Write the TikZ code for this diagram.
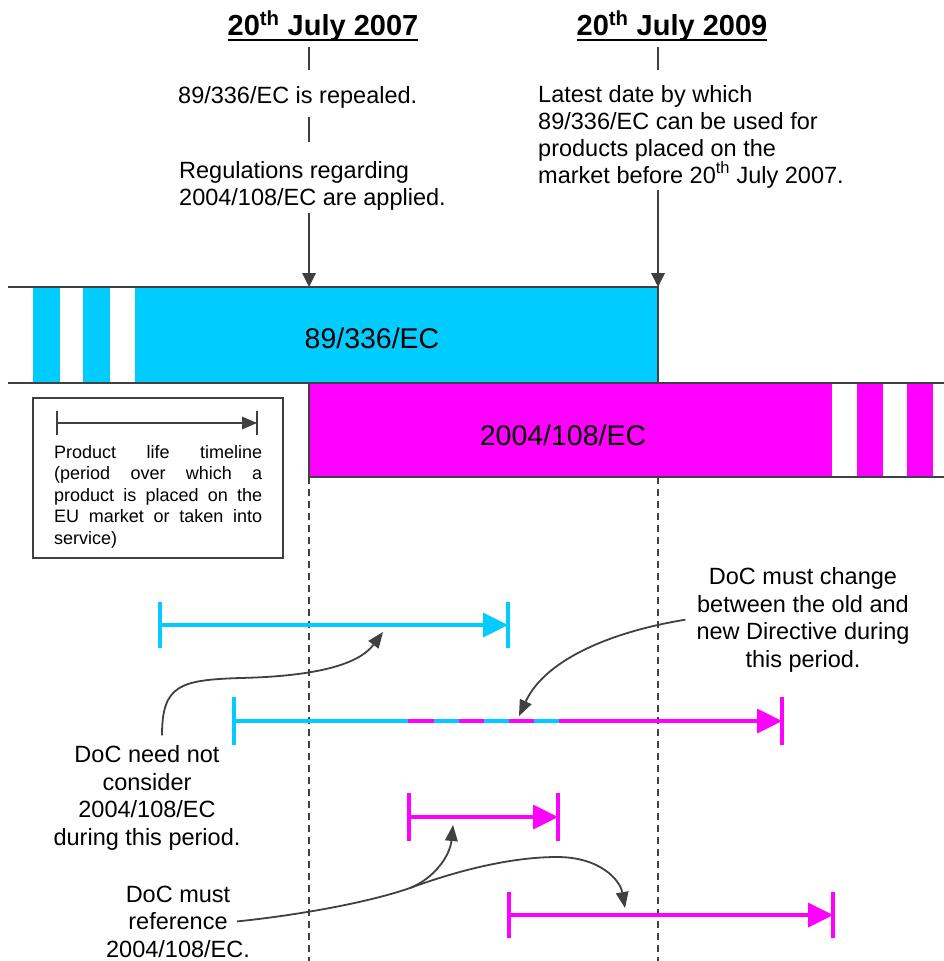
\documentclass[tikz,border=0pt]{standalone}
\usepackage{fontspec}
\setmainfont{Liberation Sans}
\usepackage{tikz}
\usetikzlibrary{arrows.meta}
\definecolor{oldcyan}{HTML}{00CCFF}
\definecolor{newmag}{HTML}{FF00FF}
\definecolor{linegray}{HTML}{404040}
\tikzstyle{heading} = [font=\fontsize{29}{33}\selectfont\bfseries,
inner sep=0pt,
anchor=base]
\tikzstyle{note} = [font=\fontsize{23.5}{27}\selectfont,
inner sep=0pt,
anchor=base west,
align=left]
\tikzstyle{callout} = [font=\fontsize{23.5}{27.5}\selectfont,
inner sep=0pt,
anchor=base,
align=center]
\tikzstyle{barlabel} = [font=\fontsize{28.5}{32}\selectfont,
inner sep=0pt,
anchor=base]
\tikzstyle{keytext} = [font=\fontsize{18}{21.5}\selectfont,
inner sep=0pt,
anchor=base west,
text width=208pt,
align=justify]
\tikzstyle{border} = [draw=linegray, line width=1.5pt]
\tikzstyle{guide} = [draw=linegray, line width=1.5pt]
\tikzstyle{datearrow} = [draw=linegray, line width=1.5pt,
-{Triangle[length=14pt,width=14pt,line width=0pt]}]
\tikzstyle{pointer} = [draw=linegray, line width=1.8pt,
-{Triangle[length=16pt,width=13pt,line width=0pt]}]
\tikzstyle{lifeline} = [line width=4pt,
-{Triangle[length=25pt,width=25pt,line width=0pt]}]
\tikzstyle{stopline} = [line width=4pt]
\tikzstyle{keyline} = [draw=linegray, line width=2pt,
-{Triangle[length=15pt,width=13pt,line width=0pt]}]
\tikzstyle{periodline} = [draw=linegray, line width=1.3pt, dash pattern=on 7pt off 5pt]

\begin{document}
\begin{tikzpicture}[x=1pt, y=-1pt]
\useasboundingbox (0,0) rectangle (944,961);

% directive bars
\fill[oldcyan] (33,287) rectangle (60,383);
\fill[oldcyan] (83,287) rectangle (110,383);
\fill[oldcyan] (135,287) rectangle (658,383);
\fill[newmag] (309,383) rectangle (832,477);
\fill[newmag] (857,383) rectangle (883,477);
\fill[newmag] (907,383) rectangle (933,477);
\draw[border] (8,287) -- (658,287) -- (658,383);
\draw[border] (8,383) -- (944,383);
\draw[border] (309,383) -- (309,477) -- (944,477);
\node[barlabel] (old) at (372,348) {89/336/EC};
\node[barlabel] (new) at (563,445) {2004/108/EC};

% dates
\node[heading] (h2007) at (323,35) {20\textsuperscript{th} July 2007};
\node[heading] (h2009) at (672,35) {20\textsuperscript{th} July 2009};
\draw[line width=2.2pt] ([yshift=-5pt]h2007.base west) -- ([yshift=-5pt]h2007.base east);
\draw[line width=2.2pt] ([yshift=-5pt]h2009.base west) -- ([yshift=-5pt]h2009.base east);

% multi-line nodes sit on their last line
\node[note] (repeal) at (178,103) {89/336/EC is repealed.};
\node[note] (apply) at (179,205) {Regulations regarding\\2004/108/EC are applied.};
\node[note] (latest) at (538,183) {Latest date by which\\89/336/EC can be used for\\products placed on the\\market before 20\textsuperscript{th} July 2007.};

\coordinate (k1) at (309,47);
\coordinate (k2) at (309,70);
\coordinate (k3) at (309,117);
\coordinate (k4) at (309,142);
\coordinate (k5) at (309,213);
\coordinate (k6) at (658,47);
\coordinate (k7) at (658,70);
\coordinate (k8) at (658,190);
\coordinate (in07) at (309,287);
\coordinate (in09) at (658,287);
\draw[guide] (k1) -- (k2);
\draw[guide] (k3) -- (k4);
\draw[datearrow] (k5) -- (in07);
\draw[guide] (k6) -- (k7);
\draw[datearrow] (k8) -- (in09);

% period lines
\coordinate (p07) at (309,477);
\coordinate (p09) at (658,477);
\draw[periodline] (p07) -- (309,961);
\draw[periodline] (p09) -- (658,961);

% key
\node[draw=linegray, line width=1.5pt, minimum width=250pt, minimum height=160pt] (key) at (158,478) {};
\coordinate (ks) at (57,423);
\coordinate (ke) at (257,423);
\draw[keyline] (ks) -- (ke);
\draw[draw=linegray, line width=2pt] ([yshift=12pt]ks) -- ([yshift=-12pt]ks);
\draw[draw=linegray, line width=2pt] ([yshift=12pt]ke) -- ([yshift=-12pt]ke);
\node[keytext] (keylabel) at (54,458) {\hyphenpenalty=10000 Product life timeline\linebreak (period over which a\linebreak product is placed on the\linebreak EU market or taken into\linebreak service)};

% product timelines
\coordinate (t1s) at (160,625);
\coordinate (t1e) at (508,625);
\draw[lifeline, oldcyan] (t1s) -- (t1e);
\draw[stopline, oldcyan] ([yshift=23pt]t1s) -- ([yshift=-23pt]t1s);
\draw[stopline, oldcyan] ([yshift=23pt]t1e) -- ([yshift=-23pt]t1e);

\coordinate (t2s) at (234,721);
\coordinate (t2m) at (408,721);
\coordinate (t2d) at (433.5,721);
\coordinate (t2f) at (559,721);
\coordinate (t2e) at (782,721);
\draw[lifeline, newmag] (t2s) -- (t2e);
\draw[stopline, oldcyan] (t2s) -- (t2m);
\draw[stopline, oldcyan, dash pattern=on 25.1pt off 25.1pt] (t2d) -- (t2f);
\draw[stopline, oldcyan] ([yshift=24pt]t2s) -- ([yshift=-24pt]t2s);
\draw[stopline, newmag] ([yshift=24pt]t2e) -- ([yshift=-24pt]t2e);

\coordinate (t3s) at (409,817);
\coordinate (t3e) at (558,817);
\draw[lifeline, newmag] (t3s) -- (t3e);
\draw[stopline, newmag] ([yshift=24pt]t3s) -- ([yshift=-24pt]t3s);
\draw[stopline, newmag] ([yshift=24pt]t3e) -- ([yshift=-24pt]t3e);

\coordinate (t4s) at (509,915);
\coordinate (t4e) at (833,915);
\draw[lifeline, newmag] (t4s) -- (t4e);
\draw[stopline, newmag] ([yshift=23pt]t4s) -- ([yshift=-23pt]t4s);
\draw[stopline, newmag] ([yshift=23pt]t4e) -- ([yshift=-23pt]t4e);

% callouts
\node[callout] (change) at (803,667) {DoC must change\\between the old and\\new Directive during\\this period.};
\node[callout] (needless) at (147,845) {DoC need not\\consider\\2004/108/EC\\during this period.};
\node[callout] (mustref) at (178,957) {DoC must\\reference\\2004/108/EC.};

\coordinate (tipA) at (383,632);
\coordinate (tipB) at (519,716);
\coordinate (tipC) at (453,825);
\coordinate (tipD) at (625,908);
\coordinate (split) at (410,888);
\draw[pointer] ([xshift=15pt,yshift=10pt]needless.north) .. controls (162,685) and (180,680) .. (240,678) .. controls (330,676) and (362,660) .. (tipA);
\draw[pointer] ([xshift=-11pt]change.west) .. controls (610,632) and (545,660) .. (tipB);
\draw[pointer] ([xshift=59pt]mustref.center) .. controls (300,915) and (370,902) .. (split) .. controls (435,878) and (450,855) .. (tipC);
\draw[pointer] (split) .. controls (470,866) and (520,857) .. (557,857) .. controls (600,857) and (620,880) .. (tipD);
\end{tikzpicture}
\end{document}
